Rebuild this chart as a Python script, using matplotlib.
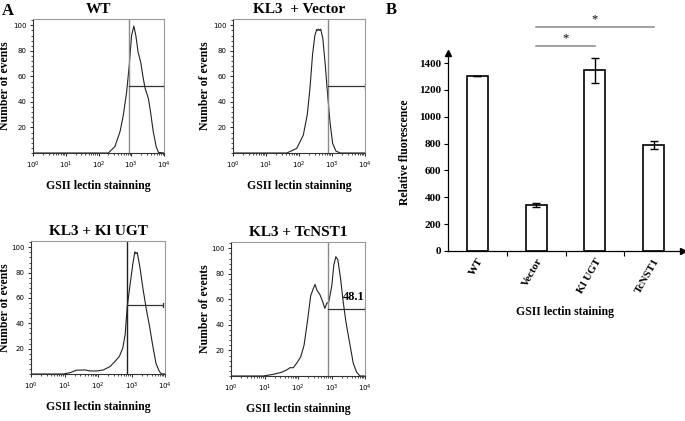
import matplotlib
matplotlib.use("Agg")
import matplotlib.pyplot as plt
import matplotlib.transforms as mtransforms
import numpy as np
from matplotlib.ticker import MultipleLocator, LogLocator, NullFormatter, FixedLocator

plt.rcParams['font.family'] = ['Liberation Serif', 'DejaVu Serif']

# --- panel A: flow histograms (log10 intensity, % of max events) ---
wt_log = [0.0, 2.30, 2.50, 2.66, 2.76, 2.86, 2.94, 3.01, 3.08, 3.14, 3.21, 3.29, 3.35, 3.42, 3.52, 3.59, 3.67, 3.76, 3.83, 4.0]
wt_cnt = [0, 0, 5, 17, 30, 48, 69, 92, 99.5, 92, 79, 71, 61, 51, 43, 32, 17, 5, 0.5, 0]

vec_log = [0.0, 1.63, 1.93, 2.13, 2.25, 2.33, 2.41, 2.48, 2.54, 2.57, 2.60, 2.63, 2.66, 2.72, 2.79, 2.86, 2.94, 3.02, 3.12, 3.25, 4.0]
vec_cnt = [0, 0, 3.6, 14, 30, 50, 77, 92, 97, 96, 97, 96, 97, 90, 71, 48, 24, 7.5, 1.5, 0, 0]

ugt_log = [0.0, 0.96, 1.16, 1.36, 1.61, 1.76, 1.96, 2.16, 2.36, 2.51, 2.64, 2.74, 2.81, 2.87, 2.96, 3.04, 3.10, 3.13, 3.17, 3.25, 3.35, 3.45, 3.53, 3.63, 3.73, 3.83, 3.90, 4.0]
ugt_cnt = [0, 0, 1, 3, 3.2, 2.4, 2.4, 3.2, 5.9, 10, 14, 20.5, 31, 52.5, 71, 87, 96.5, 95, 96, 84.5, 66, 50, 39, 23, 8.5, 2, 0, 0]

nst_log = [0.0, 0.96, 1.26, 1.51, 1.66, 1.76, 1.86, 1.96, 2.08, 2.18, 2.28, 2.38, 2.46, 2.51, 2.56, 2.66, 2.74, 2.80, 2.86, 2.92, 3.01, 3.07, 3.13, 3.19, 3.27, 3.35, 3.43, 3.50, 3.57, 3.65, 3.75, 3.85, 4.0]
nst_cnt = [0, 0, 1.3, 2.9, 4.7, 6.5, 6.5, 10, 15, 24, 42.5, 63, 68.7, 71.8, 67.6, 63.4, 58, 53, 57, 58, 71, 87, 93.5, 91, 76.5, 58, 42.5, 32, 21.7, 10, 3, 0, 0]

hist_titles = ['WT', 'KL3  + Vector', 'KL3 + Kl UGT', 'KL3 + TcNST1']
gate_log = [2.93, 2.89, 2.86, 2.89]
marker_y = [52.6, 52.3, 54.4, 52.5]
marker_end = [4.0, 4.0, 3.93, 4.0]
gate_colors = ['#8a8a8a', '#8a8a8a', '#222222', '#8a8a8a']

# --- panel B: bar chart ---
groups = ['WT', 'Vector', 'Kl UGT', 'TcNST1']
fluor = [1300, 340, 1345, 790]
fluor_err = [0, 14, 90, 27]

W, H = 685, 421
fig = plt.figure(figsize=(6.85, 4.21), dpi=100)


def box(x0, y0, x1, y1):
    # pixel box -> figure fraction
    return [x0 / W, 1 - y1 / H, (x1 - x0) / W, (y1 - y0) / H]


hist_boxes = [box(33, 19, 164, 153), box(233, 19, 365, 153),
              box(31, 241, 165, 374), box(231, 242, 365, 376)]
ylabel_x = [11, 211, 11, 211]
curves = [(wt_log, wt_cnt), (vec_log, vec_cnt), (ugt_log, ugt_cnt), (nst_log, nst_cnt)]

for i, (rect, (lx, cy)) in enumerate(zip(hist_boxes, curves)):
    ax = fig.add_axes(rect)
    ax.plot(10 ** np.array(lx), cy, color='#222222', lw=0.8)
    ax.set_xscale('log')
    ax.set_xlim(1, 1e4)
    ax.set_ylim(0, 105)
    ax.axvline(10 ** gate_log[i], color=gate_colors[i], lw=1.0)
    x0, x1 = 10 ** gate_log[i], 10 ** marker_end[i]
    ax.plot([x0, x1], [marker_y[i], marker_y[i]], color='#333333', lw=0.9)
    ax.plot([x1, x1], [marker_y[i] - 1.8, marker_y[i] + 1.8], color='#333333', lw=0.9)
    ax.set_yticks([20, 40, 60, 80, 100])
    ax.yaxis.set_minor_locator(MultipleLocator(4))
    ax.xaxis.set_major_locator(LogLocator(base=10, numticks=10))
    ax.xaxis.set_minor_locator(LogLocator(base=10, subs=np.arange(2, 10), numticks=20))
    ax.xaxis.set_minor_formatter(NullFormatter())
    ax.tick_params(axis='both', which='major', labelsize=5, length=2.5, width=0.6, pad=2)
    ax.tick_params(axis='both', which='minor', length=1.3, width=0.5)
    for lab in ax.get_xticklabels() + ax.get_yticklabels():
        lab.set_family('DejaVu Sans')
    for s in ['top', 'right']:
        ax.spines[s].set_color('#999999')
        ax.spines[s].set_linewidth(0.8)
    for s in ['left', 'bottom']:
        ax.spines[s].set_color('#333333')
        ax.spines[s].set_linewidth(0.8)
    ax.set_title(hist_titles[i], fontsize=11, fontweight='bold', pad=4)
    ax.set_xlabel('GSII lectin stainning', fontsize=8.5, fontweight='bold', labelpad=7)
    ax.set_ylabel('Number of events', fontsize=8.5, fontweight='bold')
    tr = mtransforms.blended_transform_factory(fig.transFigure, ax.transAxes)
    ax.yaxis.set_label_coords(ylabel_x[i] / W, 0.5, transform=tr)
    if i == 3:
        ax.text(1e4, 62, '48.1', ha='right', va='center', fontsize=9, fontweight='bold')

# panel B
bx = fig.add_axes(box(448, 53, 683, 251))
bx.bar(range(len(groups)), fluor, width=0.36, color='white', edgecolor='black', lw=1.2, zorder=2)
bx.errorbar(range(len(groups)), fluor, yerr=fluor_err, fmt='none', ecolor='black',
            elinewidth=1.0, capsize=3, capthick=1.0, zorder=3)
bx.set_xlim(-0.5, 3.5)
bx.set_ylim(0, 1475)
bx.set_yticks(range(0, 1401, 200))
bx.set_xticks(range(len(groups)))
bx.set_xticklabels(groups, rotation=60, ha='right', rotation_mode='anchor')
bx.xaxis.set_minor_locator(FixedLocator([0.5, 1.5, 2.5]))
bx.tick_params(axis='x', which='major', length=0, labelsize=8, pad=4)
bx.tick_params(axis='x', which='minor', length=3.5, width=0.8)
bx.tick_params(axis='y', labelsize=8, length=3, width=0.8, pad=2)
for lab in bx.get_xticklabels() + bx.get_yticklabels():
    lab.set_fontweight('bold')
for s in ['top', 'right']:
    bx.spines[s].set_visible(False)
bx.spines['left'].set_linewidth(0.9)
bx.spines['bottom'].set_linewidth(0.9)
bx.plot(0, 1, '^', color='black', ms=4, transform=bx.transAxes, clip_on=False)
bx.plot(1, 0, '>', color='black', ms=4, transform=bx.transAxes, clip_on=False)
bx.set_ylabel('Relative fluorescence', fontsize=8.5, fontweight='bold', labelpad=6)
bx.set_xlabel('GSII lectin staining', fontsize=8.5, fontweight='bold', labelpad=8)

# significance bars
bx.plot([1, 2], [1526, 1526], color='#888888', lw=1.1, clip_on=False)
bx.text(1.5, 1540, '*', ha='center', va='bottom', fontsize=9)
bx.plot([1, 3], [1668, 1668], color='#888888', lw=1.1, clip_on=False)
bx.text(2.0, 1682, '*', ha='center', va='bottom', fontsize=9)

fig.text(8 / W, 1 - 11 / H, 'A', fontsize=12, fontweight='bold', ha='center', va='center')
fig.text(391 / W, 1 - 10 / H, 'B', fontsize=12, fontweight='bold', ha='center', va='center')

fig.savefig('out.png', dpi=100)
